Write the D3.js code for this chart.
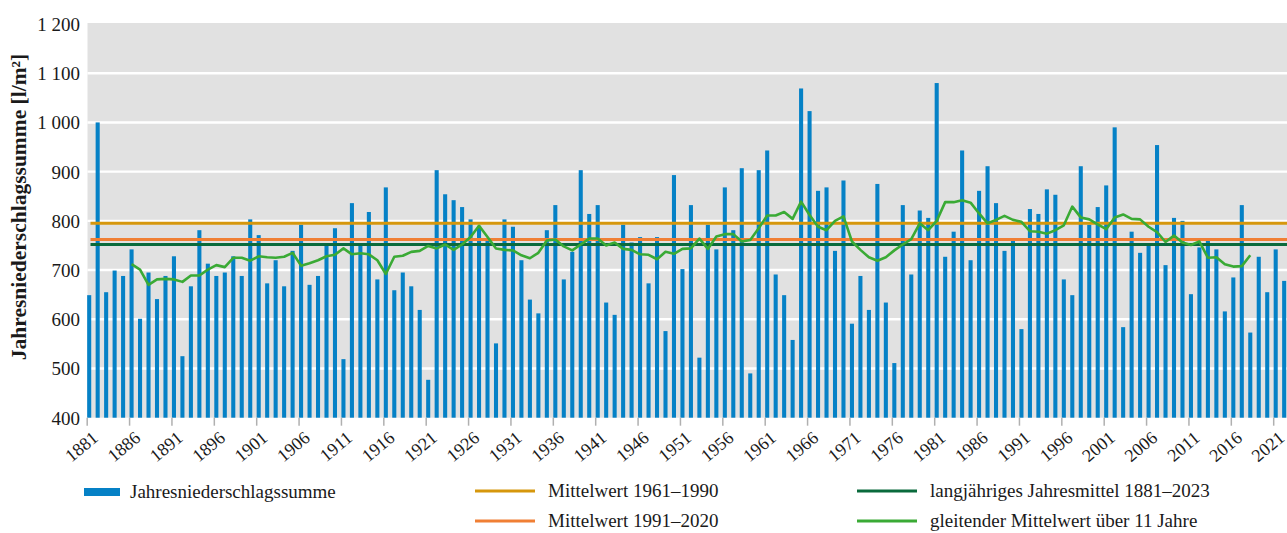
<!DOCTYPE html>
<html>
<head>
<meta charset="utf-8">
<script src="https://cdn.jsdelivr.net/npm/d3@7"></script>
<style>
  body { margin: 0; background: #fff; }
  text { font-family: "Liberation Serif", serif; fill: #1a1a1a; }
</style>
</head>
<body>
<script>
// annual precipitation sums 1881-2023 in l/m²
const years = d3.range(1881, 2024);
const precipitation = [
  649, 1000, 655, 699, 688, 742, 601, 695, 641, 688,
  728, 525, 667, 781, 713, 688, 695, 728, 688, 803,
  771, 673, 720, 667, 739, 792, 670, 688, 749, 785,
  519, 836, 749, 818, 681, 868, 659, 695, 667, 619,
  477, 903, 854, 842, 828, 803, 790, 762, 551, 803,
  788, 720, 640, 612, 781, 832, 681, 737, 903, 814,
  832, 634, 609, 792, 756, 767, 673, 767, 576, 893,
  702, 832, 522, 792, 742, 868, 781, 907, 490, 903,
  943, 691, 649, 558, 1069, 1023, 861, 868, 739, 882,
  591, 688, 619, 875, 634, 511, 832, 691, 821, 806,
  1080, 727, 778, 943, 720, 861, 911, 836, 739, 760,
  580, 824, 814, 864, 853, 681, 649, 911, 792, 828,
  872, 990, 584, 778, 735, 749, 954, 710, 806, 800,
  651, 746, 760, 742, 616, 685, 832, 573, 727, 655,
  742, 678, 850
];

// 11-year moving average, 1886-2018
const movingYears = d3.range(1886, 2019);
const movingAverage = [
  712, 701, 670, 681, 682, 681, 676, 689, 689, 701,
  710, 706, 725, 725, 719, 728, 726, 725, 727, 735,
  709, 714, 720, 728, 731, 744, 732, 734, 732, 720,
  692, 727, 729, 737, 739, 749, 744, 752, 741, 752,
  767, 790, 767, 744, 741, 740, 730, 724, 735, 760,
  762, 748, 740, 752, 764, 764, 750, 756, 743, 741,
  732, 731, 722, 737, 733, 743, 744, 764, 743, 768,
  773, 773, 758, 761, 785, 811, 811, 818, 804, 839,
  812, 788, 781, 800, 809, 758, 741, 726, 719, 726,
  740, 752, 763, 795, 781, 800, 838, 838, 842, 837,
  815, 795, 802, 810, 802, 798, 779, 778, 774, 781,
  791, 829, 807, 803, 793, 783, 807, 813, 804, 803,
  788, 777, 757, 770, 756, 751, 758, 725, 726, 712,
  707, 708, 730
];

const meanNames = ["Mittelwert 1961–1990", "Mittelwert 1991–2020", "langjähriges Jahresmittel 1881–2023"];
const meanValues = [795, 762, 752];
const meanColors = ["#d6970c", "#f07f34", "#0a6a3c"];

const yTicks = [400, 500, 600, 700, 800, 900, 1000, 1100, 1200];
const xTickYears = d3.range(1881, 2022, 5);

const W = 1287, H = 533;
const plotLeft = 87.5, plotRight = 1287, plotTop = 23, plotBottom = 417.7;

const svg = d3.select('body').append('svg')
    .attr('width', W)
    .attr('height', H);

const x = d3.scaleBand()
    .domain(years)
    .range([84.96, 84.96 + years.length * 8.475])
    .paddingInner(0.52)
    .paddingOuter(0.26);

const xc = yr => x(yr) + x.bandwidth() / 2;

const y = d3.scaleLinear()
    .domain([400, 1200])
    .range([plotBottom, 24]);

// plot background
svg.append('rect')
    .attr('x', plotLeft)
    .attr('y', plotTop)
    .attr('width', plotRight - plotLeft)
    .attr('height', plotBottom - plotTop)
    .attr('fill', '#e1e1e1');

// grid lines
svg.selectAll('.grid')
    .data(yTicks.slice(1, -1))
    .enter()
    .append('line')
    .attr('x1', plotLeft)
    .attr('x2', plotRight)
    .attr('y1', d => y(d))
    .attr('y2', d => y(d))
    .attr('stroke', '#fff')
    .attr('stroke-width', 2.4);

// y tick labels
svg.selectAll('.ylab')
    .data(yTicks)
    .enter()
    .append('text')
    .attr('x', 80)
    .attr('y', d => y(d) + 7)
    .attr('text-anchor', 'end')
    .attr('font-size', 19)
    .text(d => d >= 1000 ? Math.floor(d / 1000) + ' ' + String(d % 1000).padStart(3, '0') : d);

// y axis title
svg.append('text')
    .attr('transform', 'translate(26,207) rotate(-90)')
    .attr('text-anchor', 'middle')
    .attr('font-size', 21.5)
    .attr('font-weight', 'bold')
    .text('Jahresniederschlagssumme [l/m²]');

// bars
svg.selectAll('.bar')
    .data(years.map((yr, i) => ({ year: yr, value: precipitation[i] })))
    .enter()
    .append('rect')
    .attr('x', d => x(d.year))
    .attr('width', x.bandwidth())
    .attr('y', d => y(d.value))
    .attr('height', d => plotBottom - y(d.value))
    .attr('fill', '#0581c6');

// mean lines
svg.selectAll('.mean')
    .data(meanValues)
    .enter()
    .append('line')
    .attr('x1', plotLeft + 3)
    .attr('x2', plotRight)
    .attr('y1', d => y(d))
    .attr('y2', d => y(d))
    .attr('stroke', (d, i) => meanColors[i])
    .attr('stroke-width', 3);

// moving average
const line = d3.line()
    .x((d, i) => xc(movingYears[i]))
    .y(d => y(d));

svg.append('path')
    .datum(movingAverage)
    .attr('d', line)
    .attr('fill', 'none')
    .attr('stroke', '#3aaa35')
    .attr('stroke-width', 2.6)
    .attr('stroke-linejoin', 'round');

// x ticks and labels
svg.selectAll('.xtick')
    .data(xTickYears)
    .enter()
    .append('line')
    .attr('x1', d => xc(d) - 2)
    .attr('x2', d => xc(d) - 2)
    .attr('y1', plotBottom)
    .attr('y2', plotBottom + 8)
    .attr('stroke', '#b0b0b0')
    .attr('stroke-width', 1.5);

svg.selectAll('.xlab')
    .data(xTickYears)
    .enter()
    .append('text')
    .attr('transform', d => 'translate(' + (xc(d) + 10) + ',' + (plotBottom + 22) + ') rotate(-40)')
    .attr('text-anchor', 'end')
    .attr('font-size', 18)
    .text(d => d);

// legend
const legend = [
  { label: 'Jahresniederschlagssumme', color: '#0581c6', type: 'rect', x: 84, y: 492 },
  { label: meanNames[0], color: meanColors[0], type: 'line', x: 475, y: 491 },
  { label: meanNames[1], color: meanColors[1], type: 'line', x: 475, y: 521 },
  { label: meanNames[2], color: meanColors[2], type: 'line', x: 857, y: 491 },
  { label: 'gleitender Mittelwert über 11 Jahre', color: '#3aaa35', type: 'line', x: 857, y: 521 }
];

const lg = svg.selectAll('.legend')
    .data(legend)
    .enter()
    .append('g')
    .attr('transform', d => 'translate(' + d.x + ',' + d.y + ')');

lg.filter(d => d.type === 'rect')
    .append('rect')
    .attr('x', 0)
    .attr('y', -4)
    .attr('width', 36)
    .attr('height', 8)
    .attr('fill', d => d.color);

lg.filter(d => d.type === 'line')
    .append('line')
    .attr('x1', 0)
    .attr('x2', 60)
    .attr('stroke', d => d.color)
    .attr('stroke-width', 3);

lg.append('text')
    .attr('x', d => d.type === 'rect' ? 46 : 73)
    .attr('y', 6)
    .attr('font-size', 19)
    .text(d => d.label);
</script>
</body>
</html>
